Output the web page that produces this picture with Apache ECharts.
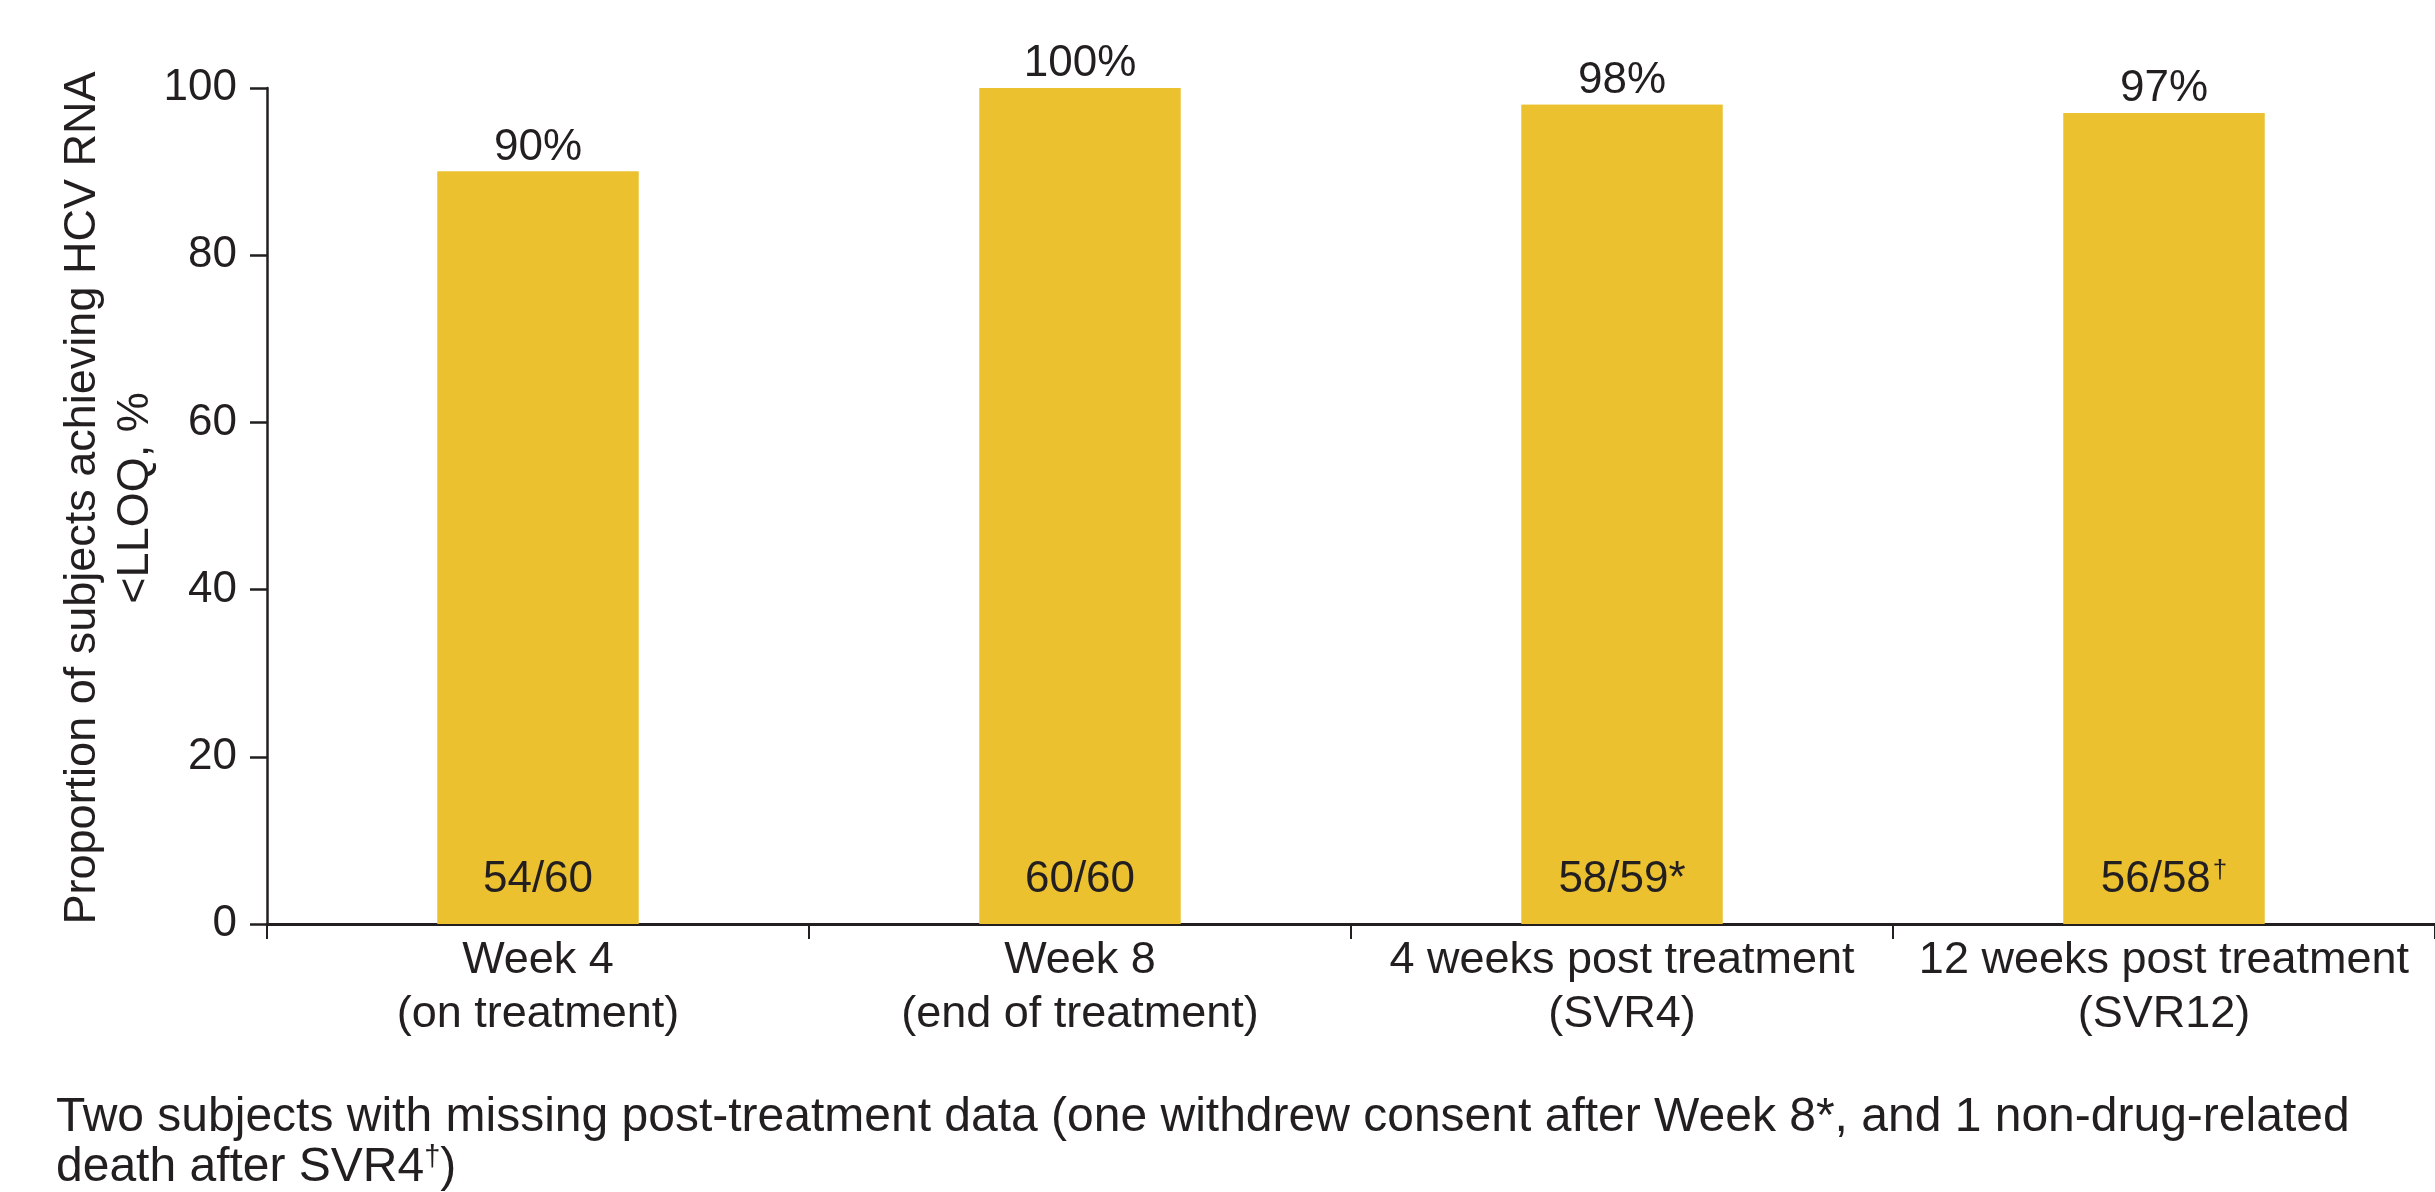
<!DOCTYPE html>
<html>
<head>
<meta charset="utf-8">
<script src="https://cdn.jsdelivr.net/npm/echarts@6/dist/echarts.min.js"></script>
<style>
html,body{margin:0;padding:0;background:#fff;}
#chart{width:2435px;height:1192px;}
</style>
</head>
<body>
<div id="chart"></div>
<script>
const categories = ['Week 4\n(on treatment)', 'Week 8\n(end of treatment)', '4 weeks post treatment\n(SVR4)', '12 weeks post treatment\n(SVR12)'];
const values = [90, 100, 98, 97];
const percentLabels = ['90%', '100%', '98%', '97%'];
const countLabels = ['54/60', '60/60', '58/59*', '56/58†'];
const yAxisTitle = 'Proportion of subjects achieving HCV RNA\n<LLOQ, %';
const yMin = 0, yMax = 100, yInterval = 20;
const footnoteLine1 = 'Two subjects with missing post-treatment data (one withdrew consent after Week 8*, and 1 non-drug-related';
const footnoteLine2 = 'death after SVR4{sup|†})';

const FONT = '"Liberation Sans", Arial, Helvetica, sans-serif';
const INK = '#231f20';
const BAR = '#ECC130';

const chart = echarts.init(document.getElementById('chart'));
chart.setOption({
  animation: false,
  backgroundColor: '#fff',
  textStyle: { fontFamily: FONT, color: INK },
  grid: { left: 267, top: 88, width: 2176, height: 836, containLabel: false },
  xAxis: {
    type: 'category',
    data: categories,
    boundaryGap: true,
    axisLine: { show: true, lineStyle: { color: INK, width: 3 } },
    axisTick: { show: true, alignWithLabel: false, length: 15, lineStyle: { color: INK, width: 2 } },
    axisLabel: { interval: 0, fontSize: 45, lineHeight: 54, color: INK, fontFamily: FONT, margin: 10 },
    splitLine: { show: false }
  },
  yAxis: {
    type: 'value',
    min: yMin, max: yMax, interval: yInterval,
    name: yAxisTitle,
    nameLocation: 'middle',
    nameRotate: 90,
    nameGap: 105,
    nameMoveOverlap: false,
    nameTextStyle: { fontSize: 45, lineHeight: 53, color: INK, fontFamily: FONT, align: 'center', padding: [0, 0, 0, 16] },
    axisLine: { show: true, lineStyle: { color: INK, width: 2.5 } },
    axisTick: { show: true, length: 17, lineStyle: { color: INK, width: 2.5 } },
    axisLabel: { fontSize: 44, color: INK, fontFamily: FONT, margin: 30 },
    splitLine: { show: false }
  },
  series: [
    {
      type: 'bar',
      data: values,
      barWidth: 201,
      itemStyle: { color: BAR },
      label: {
        show: true, position: 'top', distance: 2,
        fontSize: 44, color: INK, fontFamily: FONT,
        formatter: p => percentLabels[p.dataIndex]
      },
      z: 2
    },
    {
      type: 'bar',
      data: values,
      barWidth: 201,
      barGap: '-100%',
      itemStyle: { color: BAR },
      label: {
        show: true, position: 'insideBottom', distance: 22,
        fontSize: 44, color: INK, fontFamily: FONT,
        formatter: p => countLabels[p.dataIndex].replace('†', '{sup|†}'),
        rich: { sup: { fontSize: 26, verticalAlign: 'top', color: INK, fontFamily: FONT, padding: [0, 0, 16, 2] } }
      },
      z: 3
    }
  ],
  graphic: [
    {
      type: 'text', left: 56, top: 1093,
      style: { text: footnoteLine1, fontSize: 48, lineHeight: 50, fill: INK, fontFamily: FONT }
    },
    {
      type: 'text', left: 56, top: 1143,
      style: {
        text: footnoteLine2, fontSize: 48, lineHeight: 50, fill: INK, fontFamily: FONT,
        rich: { sup: { fontSize: 29, verticalAlign: 'top', fill: INK, fontFamily: FONT, padding: [0, 0, 18, 0] } }
      }
    }
  ]
});
</script>
</body>
</html>
